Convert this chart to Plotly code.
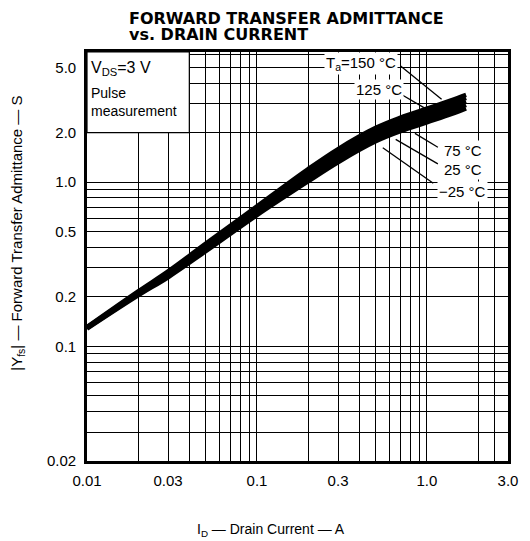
import math
import plotly.graph_objects as go

# ---------------- data ----------------
ID_A = [0.01, 0.02, 0.03, 0.05, 0.1, 0.2, 0.3, 0.5, 0.7, 1.0, 1.4, 1.7]
YFS_150C = [0.131, 0.216, 0.286, 0.422, 0.712, 1.20, 1.59, 2.14, 2.47, 2.80, 3.16, 3.40]
YFS_125C = [0.130, 0.213, 0.281, 0.411, 0.691, 1.15, 1.52, 2.04, 2.36, 2.67, 3.01, 3.25]
YFS_75C = [0.130, 0.210, 0.275, 0.400, 0.670, 1.10, 1.45, 1.95, 2.25, 2.55, 2.87, 3.10]
YFS_25C = [0.129, 0.207, 0.269, 0.389, 0.649, 1.055, 1.385, 1.86, 2.14, 2.43, 2.73, 2.95]
YFS_M25C = [0.128, 0.204, 0.263, 0.379, 0.629, 1.01, 1.32, 1.77, 2.04, 2.31, 2.60, 2.81]

SERIES_NAMES = ["Ta=150 °C", "125 °C", "75 °C", "25 °C", "−25 °C"]
SERIES_VALUES = [YFS_150C, YFS_125C, YFS_75C, YFS_25C, YFS_M25C]

X_TICK_VALUES = [0.01, 0.03, 0.1, 0.3, 1.0, 3.0]
X_TICK_LABELS = ["0.01", "0.03", "0.1", "0.3", "1.0", "3.0"]
Y_TICK_VALUES = [0.02, 0.1, 0.2, 0.5, 1.0, 2.0, 5.0]
Y_TICK_LABELS = ["0.02", "0.1", "0.2", "0.5", "1.0", "2.0", "5.0"]

X_RANGE = [0.01, 3.0]
Y_RANGE = [0.02, 6.2]


def grid_values(lo, hi, extra=()):
    vals = set()
    e = math.floor(math.log10(lo))
    while 10 ** e <= hi * 1.0001:
        for m in range(1, 10):
            v = round(m * 10 ** e, 6)
            if lo * 0.9999 <= v <= hi * 1.0001:
                vals.add(v)
        e += 1
    for v in extra:
        vals.add(v)
    return sorted(vals)


def tick_arrays(grid, tvals, tlabels):
    lab = {round(v, 6): t for v, t in zip(tvals, tlabels)}
    return grid, [lab.get(round(v, 6), "") for v in grid]


xg, xt = tick_arrays(grid_values(*X_RANGE, extra=(2.5,)), X_TICK_VALUES, X_TICK_LABELS)
yg, yt = tick_arrays(grid_values(*Y_RANGE), Y_TICK_VALUES, Y_TICK_LABELS)

L = math.log10
fig = go.Figure()
for name, vals in zip(SERIES_NAMES, SERIES_VALUES):
    fig.add_trace(go.Scatter(x=ID_A, y=vals, mode="lines", name=name,
                             line=dict(color="black", width=4.4, shape="spline", smoothing=1.0),
                             showlegend=False, hoverinfo="skip"))

tickfont = dict(family="Liberation Sans, Arial, sans-serif", size=15, color="black")
fig.update_xaxes(type="log", range=[L(X_RANGE[0]), L(X_RANGE[1])],
                 tickmode="array", tickvals=xg, ticktext=xt, ticks="",
                 showgrid=True, gridcolor="black", gridwidth=1.2,
                 showline=True, linecolor="black", linewidth=2.6, mirror=True,
                 zeroline=False, tickfont=tickfont, ticklabelstandoff=4)
fig.update_yaxes(type="log", range=[L(Y_RANGE[0]), L(Y_RANGE[1])],
                 tickmode="array", tickvals=yg, ticktext=yt, ticks="",
                 showgrid=True, gridcolor="black", gridwidth=1.2,
                 showline=True, linecolor="black", linewidth=2.6, mirror=True,
                 zeroline=False, tickfont=tickfont, ticklabelstandoff=5)

# white condition box in the top-left corner
fig.add_shape(type="rect", xref="x", yref="y", x0=0.01, x1=0.04, y0=2.0, y1=Y_RANGE[1],
              fillcolor="white", line=dict(color="black", width=1.2), layer="between")

txt = dict(family="Liberation Sans, Arial, sans-serif", size=15, color="black")
ann = []
ann.append(dict(xref="x", yref="y", x=L(0.0103), y=L(4.95), xanchor="left", yanchor="middle",
                text="V<sub>DS</sub>=3 V", showarrow=False, font=dict(txt, size=16)))
ann.append(dict(xref="x", yref="y", x=L(0.0103), y=L(3.5), xanchor="left", yanchor="middle",
                text="Pulse", showarrow=False, font=dict(txt, size=14)))
ann.append(dict(xref="x", yref="y", x=L(0.0103), y=L(2.7), xanchor="left", yanchor="middle",
                text="measurement", showarrow=False, font=dict(txt, size=14)))

# temperature labels: (text, label x, label y, pointer start, pointer end)
LABELS = [
    ("T<sub>a</sub>=150 °C", 0.41, 5.3, (0.70, 5.1), (1.22, 3.2)),
    ("125 °C", 0.52, 3.66, (0.68, 3.5), (0.96, 2.84)),
    ("75 °C", 1.62, 1.56, (1.16, 1.63), (0.85, 1.98)),
    ("25 °C", 1.62, 1.19, (1.16, 1.29), (0.655, 1.82)),
    ("−25 °C", 1.62, 0.88, (1.09, 0.985), (0.55, 1.62)),
]
for t, lx, ly, p0, p1 in LABELS:
    fig.add_shape(type="line", xref="x", yref="y", x0=p0[0], y0=p0[1], x1=p1[0], y1=p1[1],
                  line=dict(color="black", width=1.3), layer="above")
    ann.append(dict(xref="x", yref="y", x=L(lx), y=L(ly), text=t, showarrow=False,
                    font=txt, bgcolor="white", borderpad=1))

# titles
title_font = dict(family="DejaVu Sans, sans-serif", size=16, color="black", weight="bold")
ann.append(dict(xref="paper", yref="paper", x=0.095, y=1.083, xanchor="left", yanchor="middle",
                text="FORWARD TRANSFER ADMITTANCE", showarrow=False, font=title_font))
ann.append(dict(xref="paper", yref="paper", x=0.095, y=1.044, xanchor="left", yanchor="middle",
                text="vs. DRAIN CURRENT", showarrow=False, font=title_font))
ann.append(dict(xref="paper", yref="paper", x=0.436, y=-0.169, xanchor="center", yanchor="middle",
                text="I<sub>D</sub> — Drain Current — A", showarrow=False, font=dict(txt, size=14)))
ann.append(dict(xref="paper", yref="paper", x=-0.165, y=0.557, xanchor="center", yanchor="middle",
                text="|Y<sub>fs</sub>| — Forward Transfer Admittance — S", textangle=-90,
                showarrow=False, font=txt))

fig.update_layout(width=530, height=541, margin=dict(l=87, r=12, t=52, b=80),
                  paper_bgcolor="white", plot_bgcolor="white", annotations=ann,
                  showlegend=False)
fig.write_html("out.html", config={"displayModeBar": False},
               post_script="document.body.style.margin='0';")
